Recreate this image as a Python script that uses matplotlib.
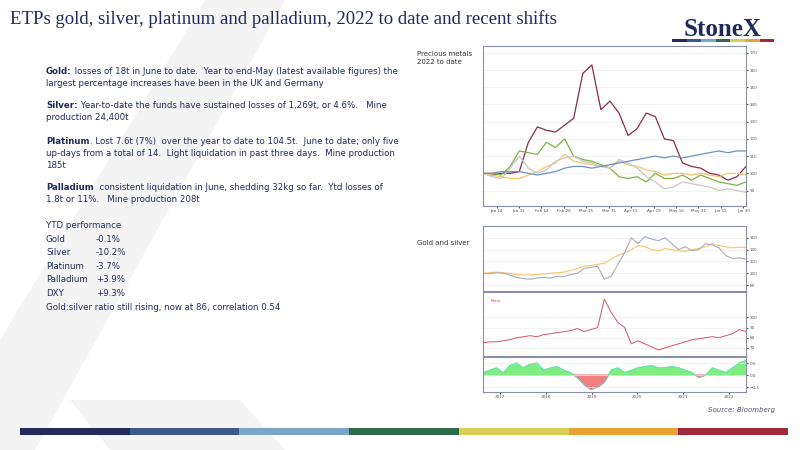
import matplotlib.pyplot as plt
import numpy as np
from matplotlib.patches import Polygon, Rectangle

# Top chart: precious metals indexed, 2022 to date (weekly-ish readings)
top_ticks = ['Jan 14', 'Jan 31', 'Feb 14', 'Feb 28', 'Mar 15', 'Mar 31', 'Apr 15', 'Apr 29', 'May 16', 'May 31', 'Jun 15', 'Jun 30']
palladium = [100, 99, 100, 100, 101, 118, 127, 125, 124, 128, 132, 158, 163, 137, 142, 135, 122, 126, 135, 133, 120, 119, 106, 104, 103, 100, 99, 96, 98, 104]
platinum = [100, 100, 99, 104, 113, 112, 111, 118, 115, 120, 110, 108, 107, 105, 103, 98, 97, 98, 95, 100, 97, 97, 99, 96, 99, 97, 95, 94, 93, 95]
gold = [100, 99, 98, 97, 97, 99, 101, 104, 106, 111, 107, 106, 105, 104, 103, 107, 105, 104, 102, 101, 99, 100, 100, 99, 100, 99, 98, 100, 100, 99]
silver = [100, 98, 97, 103, 110, 103, 100, 102, 107, 109, 110, 107, 106, 104, 103, 108, 106, 103, 98, 95, 91, 92, 95, 94, 93, 92, 90, 91, 90, 89]
dxy = [100, 100, 101, 101, 101, 100, 99, 100, 101, 103, 104, 104, 103, 104, 105, 106, 107, 108, 109, 110, 109, 110, 109, 110, 111, 112, 113, 112, 113, 113]

# Lower chart: gold & silver since 2017, ratio and correlation
years = ['2017', '2018', '2019', '2020', '2021', '2022']
gold_lt = [100, 101, 102, 101, 100, 98, 97, 97, 98, 99, 100, 101, 102, 105, 108, 112, 113, 115, 117, 124, 130, 135, 140, 147, 145, 140, 138, 142, 140, 138, 137, 140, 142, 145, 150, 147, 145, 143, 144, 144]
silver_lt = [100, 99, 101, 100, 97, 93, 91, 90, 92, 93, 92, 95, 94, 98, 100, 108, 110, 112, 90, 95, 115, 135, 160, 150, 162, 158, 155, 160, 150, 140, 145, 138, 140, 150, 148, 143, 130, 125, 126, 124]
ratio = [75, 76, 76, 77, 78, 80, 81, 82, 81, 83, 84, 85, 86, 87, 89, 86, 88, 90, 118, 105, 95, 90, 74, 77, 74, 71, 68, 70, 72, 74, 76, 78, 79, 80, 81, 80, 82, 84, 88, 86]
corr = [0.1, 0.2, 0.3, 0.1, 0.4, 0.5, 0.3, 0.45, 0.5, 0.2, 0.3, 0.35, 0.2, 0.1, -0.1, -0.4, -0.6, -0.5, -0.3, 0.2, 0.3, 0.1, 0.2, 0.3, 0.35, 0.4, 0.3, 0.3, 0.35, 0.3, 0.2, 0.1, -0.1, 0.0, 0.3, 0.2, 0.1, 0.3, 0.5, 0.6]

navy = '#1f2a5c'
fig = plt.figure(figsize=(8, 4.5), dpi=100)
W, H = 800, 450

def box(x0, y0, x1, y1):
    return [x0 / W, 1 - y1 / H, (x1 - x0) / W, (y1 - y0) / H]

bg = fig.add_axes([0, 0, 1, 1])
bg.set_xlim(0, W); bg.set_ylim(H, 0); bg.axis('off')
bg.add_patch(Polygon([[205, 0], [285, 0], [35, 450], [0, 450], [0, 340]], color='#f4f4f4', lw=0))
bg.add_patch(Polygon([[70, 400], [240, 400], [285, 450], [110, 450]], color='#f4f4f4', lw=0))
bar_cols = ['#232b5b', '#3b5a87', '#79a6c6', '#2d6a4a', '#d9cf57', '#e8a233', '#a3293a']
for i, c in enumerate(bar_cols):
    bg.add_patch(Rectangle((20 + i * 109.7, 428), 109.7, 7, color=c, lw=0))
for i, c in enumerate(bar_cols):
    bg.add_patch(Rectangle((672 + i * 14.6, 39), 14.6, 3, color=c, lw=0))

fig.text(10 / W, 1 - 19 / H, 'ETPs gold, silver, platinum and palladium, 2022 to date and recent shifts',
         family='Liberation Serif', fontsize=13.5, color=navy, va='center')
fig.text(723 / W, 1 - 29 / H, 'StoneX', family='Liberation Serif', fontsize=18, color=navy,
         ha='center', va='center', weight='bold')
fig.text(775 / W, 1 - 412 / H, 'Source: Bloomberg', fontsize=5, color='#555577', ha='right', style='italic')

renderer = fig.canvas.get_renderer()
paras = [(67, 'Gold:', ' losses of 18t in June to date.  Year to end-May (latest available figures) the',
          'largest percentage increases have been in the UK and Germany'),
         (101, 'Silver:', ' Year-to-date the funds have sustained losses of 1,269t, or 4.6%.   Mine',
          'production 24,400t'),
         (137, 'Platinum', '. Lost 7.6t (7%)  over the year to date to 104.5t.  June to date; only five',
          'up-days from a total of 14.  Light liquidation in past three days.  Mine production\n185t'),
         (183, 'Palladium', '  consistent liquidation in June, shedding 32kg so far.  Ytd losses of',
          '1.8t or 11%.   Mine production 208t')]
for y, b, t, rest in paras:
    lbl = fig.text(46 / W, 1 - y / H, b, fontsize=6.2, color=navy, weight='bold', va='top')
    wpx = lbl.get_window_extent(renderer).width
    fig.text((46 + wpx) / W, 1 - y / H, t, fontsize=6.2, color=navy, va='top')
    fig.text(46 / W, 1 - (y + 11.5) / H, rest, fontsize=6.2, color=navy, va='top', linespacing=1.45)

ytd = [('YTD performance', ''), ('Gold', '-0.1%'), ('Silver', '-10.2%'), ('Platinum', '-3.7%'),
       ('Palladium', '+3.9%'), ('DXY', '+9.3%'), ('Gold:silver ratio still rising, now at 86, correlation 0.54', '')]
for i, (a, b) in enumerate(ytd):
    y = 1 - (226 + i * 13.5) / H
    fig.text(46 / W, y, a, fontsize=6.2, color=navy, va='center')
    fig.text(96 / W, y, b, fontsize=6.2, color=navy, va='center')

fig.text(417 / W, 1 - 58 / H, 'Precious metals\n2022 to date', fontsize=5, color='#333333', va='center')
fig.text(417 / W, 1 - 243 / H, 'Gold and silver', fontsize=5, color='#333333', va='center')

def style(ax):
    ax.yaxis.tick_right()
    ax.tick_params(labelsize=3, length=1.5, colors='#555555', pad=1)
    ax.grid(axis='y', color='#ededed', lw=0.5)
    for s in ax.spines.values():
        s.set_color('#8a8fa8'); s.set_linewidth(0.8)

ax1 = fig.add_axes(box(483, 46, 746, 206))
x = np.arange(len(palladium))
ax1.plot(x, palladium, color='#8b2d4a', lw=0.9)
ax1.plot(x, platinum, color='#7fb241', lw=0.9)
ax1.plot(x, gold, color='#f7c46a', lw=0.9)
ax1.plot(x, silver, color='#c8c8c8', lw=0.9)
ax1.plot(x, dxy, color='#6b8fc7', lw=0.9)
ax1.set_ylim(81, 174)
ax1.set_yticks(range(90, 171, 10))
ax1.set_xlim(0, len(x) - 1)
ax1.set_xticks(np.linspace(1.5, len(x) - 1.3, len(top_ticks)))
ax1.set_xticklabels(top_ticks)
style(ax1)

n = len(gold_lt)
xl = np.arange(n)
ax2 = fig.add_axes(box(483, 226, 746, 291))
ax2.plot(xl, gold_lt, color='#f7c46a', lw=0.8)
ax2.plot(xl, silver_lt, color='#a8adb8', lw=0.8)
ax2.set_ylim(70, 180); ax2.set_yticks(range(80, 171, 20)); ax2.set_xticks([])
ax2.set_xlim(0, n - 1)
style(ax2)

ax3 = fig.add_axes(box(483, 292, 746, 356))
ax3.plot(xl, ratio, color='#d9536b', lw=0.7)
ax3.set_ylim(62, 125); ax3.set_yticks([70, 80, 90, 100]); ax3.set_xticks([])
ax3.set_xlim(0, n - 1)
ax3.text(0.03, 0.85, 'Ratio', transform=ax3.transAxes, fontsize=3, color='#d9536b')
style(ax3)

ax4 = fig.add_axes(box(483, 357, 746, 392))
c = np.array(corr)
ax4.fill_between(xl, 0, c, where=c >= 0, color='#7fee7f', interpolate=True)
ax4.fill_between(xl, 0, c, where=c < 0, color='#f08080', interpolate=True)
ax4.plot(xl, c, color='#55dddd', lw=0.5)
ax4.set_ylim(-0.7, 0.75); ax4.set_yticks([-0.5, 0, 0.5]); ax4.set_xlim(0, n - 1)
ax4.set_xticks(np.linspace(2.5, n - 3.5, len(years)))
ax4.set_xticklabels(years)
style(ax4)

fig.savefig('out.png', dpi=100)
